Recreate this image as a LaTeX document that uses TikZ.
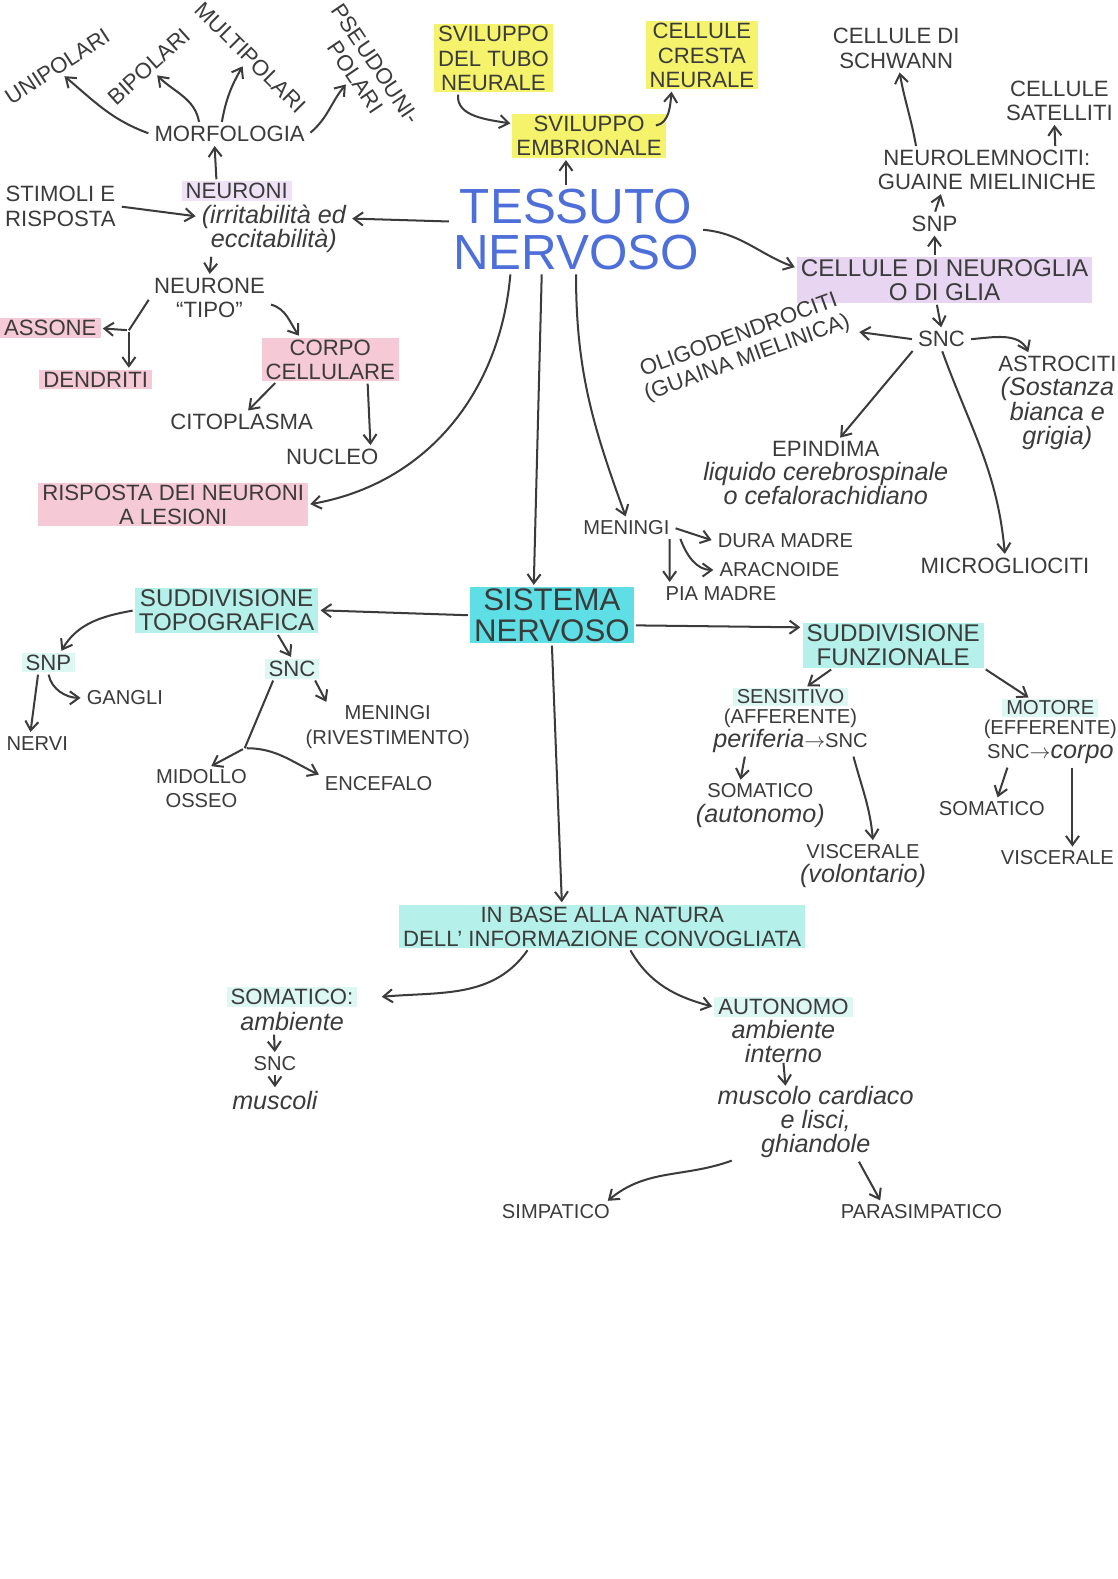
\documentclass[tikz,border=0pt]{standalone}
\usepackage{fontspec}
\setmainfont{Liberation Sans}
\usetikzlibrary{positioning,arrows.meta}

\definecolor{ink}{HTML}{3B3B3B}
\definecolor{blu}{HTML}{4E6FD9}
\definecolor{gialloev}{HTML}{F5F26B}
\definecolor{rosaev}{HTML}{F6C9D6}
\definecolor{violaev}{HTML}{E8D5F2}
\definecolor{azzurroev}{HTML}{5EDFE6}
\definecolor{acquaev}{HTML}{B5F0EA}
\definecolor{acquatenue}{HTML}{DDF7F3}

\newcommand{\fhd}{\fontsize{22}{24}\selectfont}
\newcommand{\fhh}{\fontsize{24}{24}\selectfont}
\newcommand{\fsm}{\fontsize{20}{24}\selectfont}
\newcommand{\curs}{\fontsize{25}{24}\selectfont\itshape}

\tikzset{node distance=2cm, auto}
\tikzset{
  voce/.style={text=ink, font=\fhd, align=center, inner xsep=4pt, inner ysep=2pt},
  vocet/.style={voce, font=\fsm},
  gialla/.style={voce, fill=gialloev},
  rosa/.style={voce, fill=rosaev},
  viola/.style={voce, font=\fhh, fill=violaev},
  azzurra/.style={voce, font=\fhh, fill=acquaev},
  tenue/.style={voce, fill=acquatenue},
  titolo/.style={text=blu, font=\fontsize{49}{46}\selectfont, align=center, inner sep=2pt},
  sistema/.style={voce, font=\fontsize{31}{30}\selectfont, fill=azzurroev},
  freccia/.style={draw=ink, line width=2pt, -{Straight Barb[length=9pt,width=13pt]}, shorten >=2pt, shorten <=2pt},
  tratto/.style={draw=ink, line width=2pt, shorten <=2pt},
}

\begin{document}
\begin{tikzpicture}[x=1pt,y=1pt]
\useasboundingbox (0,0) rectangle (1110,-1568);
\fill[white] (0,0) rectangle (1110,-1568);

% neuroni
\node[voce, rotate=33] (unip) at (57,-66) {UNIPOLARI};
\node[voce, rotate=42] (bip) at (148,-66) {BIPOLARI};
\node[voce, rotate=-45] (multi) at (249,-57) {MULTIPOLARI};
\node[voce, rotate=-56] (pseudo) at (363,-70) {PSEUDOUNI-\\POLARI};
\node[voce] (morf) at (228,-133) {MORFOLOGIA};
\node[voce] (stim) at (60,-205) {STIMOLI E\\RISPOSTA};
\node[voce, fill=violaev!70] (neur) at (235,-190) {NEURONI};
\node[voce, font=\curs] (neurx) at (272,-227) {(irritabilità ed\\eccitabilità)};
\node[voce] (ntipo) at (208,-296) {NEURONE\\“TIPO”};
\node[rosa] (asson) at (50,-326) {ASSONE};
\node[rosa] (dend) at (95,-377) {DENDRITI};
\node[rosa] (corpo) at (328,-357) {CORPO\\CELLULARE};
\node[voce] (citop) at (240,-419) {CITOPLASMA};
\node[voce] (nucl) at (330,-454) {NUCLEO};
\node[rosa] (risp) at (172,-501) {RISPOSTA DEI NEURONI\\A LESIONI};

% embrionale
\node[gialla] (tubo) at (490,-58) {SVILUPPO\\DEL TUBO\\NEURALE};
\node[gialla] (cresta) at (697,-55) {CELLULE\\CRESTA\\NEURALE};
\node[gialla] (embr) at (585,-135) {SVILUPPO\\EMBRIONALE};
\node[titolo] (tess) at (572,-228) {TESSUTO\\NERVOSO};

% glia
\node[voce] (schw) at (890,-48) {CELLULE DI\\SCHWANN};
\node[voce] (satel) at (1052,-100) {CELLULE\\SATELLITI};
\node[voce] (neurol) at (980,-169) {NEUROLEMNOCITI:\\GUAINE MIELINICHE};
\node[voce] (snpA) at (928,-222) {SNP};
\node[viola] (glia) at (938,-278) {CELLULE DI NEUROGLIA\\O DI GLIA};
\node[voce] (sncA) at (935,-337) {SNC};
\node[voce, rotate=20] (oligo) at (738,-345) {OLIGODENDROCITI\\(GUAINA MIELINICA)};
\node[voce] (astro) at (1050,-400) {ASTROCITI\\{\curs (Sostanza}\\{\curs bianca e}\\{\curs grigia)}};
\node[voce] (epind) at (820,-470) {EPINDIMA\\{\curs liquido cerebrospinale}\\{\curs o cefalorachidiano}};
\node[voce] (micro) at (998,-562) {MICROGLIOCITI};
\node[vocet] (menA) at (622,-524) {MENINGI};
\node[vocet] (dura) at (780,-537) {DURA MADRE};
\node[vocet] (arac) at (774,-566) {ARACNOIDE};
\node[vocet] (pia) at (716,-589) {PIA MADRE};

% sistema nervoso
\node[sistema] (sist) at (548,-611) {SISTEMA\\NERVOSO};
\node[azzurra] (topo) at (225,-606) {SUDDIVISIONE\\TOPOGRAFICA};
\node[tenue] (snpB) at (48,-658) {SNP};
\node[vocet] (gang) at (124,-693) {GANGLI};
\node[vocet] (nerv) at (37,-738) {NERVI};
\node[tenue] (sncB) at (290,-664) {SNC};
\node[vocet] (menB) at (385,-722) {MENINGI\\(RIVESTIMENTO)};
\node[vocet] (midol) at (200,-783) {MIDOLLO\\OSSEO};
\node[vocet] (encef) at (376,-778) {ENCEFALO};

\node[azzurra] (funz) at (887,-641) {SUDDIVISIONE\\FUNZIONALE};
\node[vocet, fill=acquatenue] (sens) at (785,-692) {SENSITIVO};
\node[vocet, below=0pt of sens] (sensx) {(AFFERENTE)\\{\curs periferia}$\rightarrow$SNC};
\node[vocet] (somA) at (755,-800) {SOMATICO\\{\curs (autonomo)}};
\node[vocet] (viscA) at (857,-860) {VISCERALE\\{\curs (volontario)}};
\node[vocet, fill=acquatenue] (mot) at (1043,-703) {MOTORE};
\node[vocet, below=0pt of mot] (motx) {(EFFERENTE)\\SNC$\rightarrow${\curs corpo}};
\node[vocet] (somB) at (985,-803) {SOMATICO};
\node[vocet] (viscB) at (1050,-852) {VISCERALE};

\node[voce, fill=acquaev] (base) at (598,-920) {IN BASE ALLA NATURA\\DELL’ INFORMAZIONE CONVOGLIATA};
\node[voce, fill=acquatenue] (somC) at (290,-990) {SOMATICO:};
\node[voce, font=\curs] (amb) at (290,-1014) {ambiente};
\node[vocet] (sncC) at (273,-1056) {SNC};
\node[voce, font=\curs] (musc) at (273,-1093) {muscoli};
\node[voce, fill=acquatenue] (auto) at (778,-1000) {AUTONOMO};
\node[voce, font=\curs] (autox) at (778,-1034) {ambiente\\interno};
\node[voce, font=\curs] (card) at (810,-1114) {muscolo cardiaco\\e lisci,\\ghiandole};
\node[vocet] (simp) at (552,-1203) {SIMPATICO};
\node[vocet] (paras) at (915,-1203) {PARASIMPATICO};

% frecce neuroni
\draw[freccia] (morf.west) to[out=160,in=-40] (unip.south);
\draw[freccia] ([xshift=-30pt]morf.north) to[out=100,in=-45] (bip.south);
\draw[freccia] ([xshift=-8pt]morf.north) to[out=80,in=-120] (multi.south);
\draw[freccia] (morf.east) to[out=40,in=-130] (pseudo.south);
\draw[freccia] ([xshift=-20pt]neur.north) -- ([xshift=-15pt]morf.south);
\draw[freccia] (stim.east) -- ([yshift=12pt]neurx.west);
\draw[freccia] ([yshift=8pt]tess.west) -- ([yshift=10pt]neurx.east);
\draw[freccia] ([xshift=-62pt]neurx.south) -- (ntipo.north);
\coordinate (biforca) at (128,-328);
\draw[tratto] (ntipo.west) -- (biforca);
\draw[freccia] (biforca) -- (asson.east);
\draw[freccia] (biforca) -- (biforca |- dend.north);
\draw[freccia] ([yshift=-6pt]ntipo.east) to[out=-15,in=125] ([xshift=-30pt]corpo.north);
\draw[freccia] ([xshift=15pt]corpo.south west) -- ([xshift=5pt]citop.north);
\draw[freccia] ([xshift=37pt]corpo.south) -- ([xshift=38pt]nucl.north);
\draw[freccia] ([xshift=-65pt]tess.south) to[out=-95,in=10] (risp.east);

% frecce embrionale
\draw[freccia] ([xshift=-10pt]tess.north) -- ([xshift=-23pt]embr.south);
\draw[freccia] ([xshift=-35pt]tubo.south) to[out=-95,in=170] ([yshift=12pt]embr.west);
\draw[freccia] ([xshift=-12pt,yshift=10pt]embr.east) to[out=10,in=-95] ([xshift=-30pt]cresta.south);

% frecce glia
\draw[freccia] (tess.east) to[out=-5,in=160] ([yshift=12pt]glia.west);
\draw[freccia] ([xshift=-10pt]glia.north) -- (snpA.south);
\draw[freccia] (snpA.north) -- ([xshift=-45pt]neurol.south);
\draw[freccia] ([xshift=-70pt]neurol.north) to[out=100,in=-80] ([xshift=3pt]schw.south);
\draw[freccia] ([xshift=68pt]neurol.north) -- ([xshift=-5pt]satel.south);
\draw[freccia] ([xshift=-8pt]glia.south) -- (sncA.north);
\draw[freccia] (sncA.west) -- (oligo.south east);
\draw[freccia] (sncA.east) to[out=5,in=115] ([xshift=-28pt]astro.north);
\draw[freccia] (sncA.south west) -- ([xshift=13pt]epind.north);
\draw[freccia] (sncA.south) to[out=-70,in=95] (micro.north);
\draw[freccia] (tess.south) to[out=-90,in=110] (menA.north);
\draw[freccia] (menA.east) -- (dura.west);
\draw[freccia] ([xshift=6pt]menA.south east) to[out=-70,in=180] (arac.west);
\draw[freccia] ([xshift=-4pt]menA.south east) -- ([xshift=-51pt]pia.north);

% frecce sistema nervoso
\draw[freccia] ([xshift=-34pt]tess.south) -- ([xshift=-18pt]sist.north);
\draw[freccia] (sist.west) -- (topo.east);
\draw[freccia] ([yshift=-10pt]sist.east) -- ([yshift=18pt]funz.west);
\draw[freccia] (sist.south) -- ([xshift=-40pt]base.north);
\draw[freccia] (topo.west) to[out=190,in=60] ([xshift=12pt]snpB.north);
\draw[freccia] ([xshift=50pt]topo.south) -- (sncB.north);
\draw[freccia] (snpB.south) to[out=-80,in=180] (gang.west);
\draw[freccia] ([xshift=-10pt]snpB.south) -- ([xshift=-7pt]nerv.north);
\draw[freccia] ([xshift=22pt]sncB.south) -- ([xshift=-60pt]menB.north);
\coordinate (biforcb) at (243,-743);
\draw[tratto] ([xshift=-18pt]sncB.south) -- (biforcb);
\draw[freccia] (biforcb) -- ([xshift=8pt]midol.north);
\draw[freccia] (biforcb) to[out=0,in=155] ([yshift=8pt]encef.west);
\draw[freccia] ([xshift=-60pt]funz.south) -- ([xshift=15pt]sens.north);
\draw[freccia] (funz.south east) -- ([xshift=-20pt]mot.north);
\draw[freccia] ([xshift=-45pt]sensx.south) -- ([xshift=-20pt]somA.north);
\draw[freccia] ([xshift=62pt]sensx.south) to[out=-75,in=95] ([xshift=10pt]viscA.north);
\draw[freccia] ([xshift=-42pt]motx.south) -- ([xshift=5pt]somB.north);
\draw[freccia] ([xshift=22pt]motx.south) -- ([xshift=15pt]viscB.north);

% frecce informazione
\draw[freccia] ([xshift=-73pt]base.south) to[out=-125,in=5] ([xshift=22pt]somC.east);
\draw[freccia] ([xshift=27pt]base.south) to[out=-60,in=165] (auto.west);
\draw[freccia] ([xshift=-18pt]amb.south) -- (sncC.north);
\draw[freccia] (sncC.south) -- (musc.north);
\draw[freccia, shorten <=0pt, shorten >=0pt] ([yshift=2pt]autox.south) -- ([xshift=-30pt,yshift=-2pt]card.north);
\draw[freccia] ([xshift=20pt]card.south west) to[out=200,in=40] ([xshift=50pt]simp.north);
\draw[freccia] ([xshift=42pt]card.south) -- ([xshift=-40pt]paras.north);
\end{tikzpicture}
\end{document}
